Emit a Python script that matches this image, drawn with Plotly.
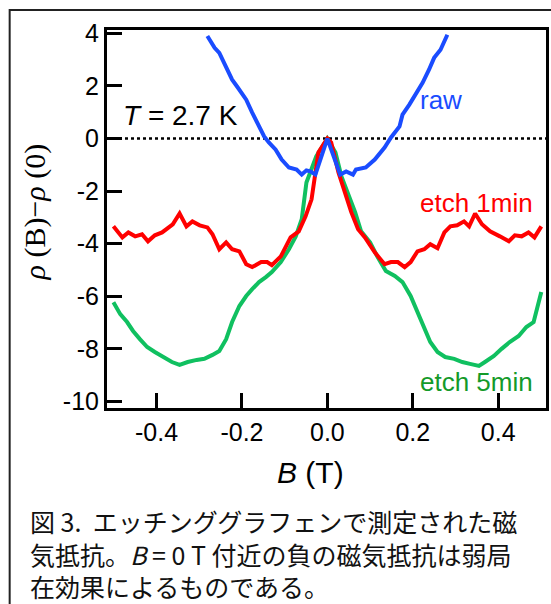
import plotly.graph_objects as go

# ---- data ----
raw_B = [-0.281, -0.264, -0.253, -0.237, -0.223, -0.211, -0.190, -0.176, -0.160, -0.148,
         -0.137, -0.121, -0.107, -0.090, -0.072, -0.060, -0.049, -0.040, -0.028, 0.0,
         0.030, 0.044, 0.060, 0.067, 0.090, 0.111, 0.134, 0.149, 0.169, 0.176,
         0.192, 0.204, 0.223, 0.238, 0.250, 0.265, 0.276, 0.281]
raw_rho = [3.90, 3.45, 3.26, 2.73, 2.24, 1.97, 1.48, 0.99, 0.46, 0.08,
           -0.15, -0.42, -0.80, -1.10, -1.18, -1.37, -1.21, -1.25, -1.37, 0.0,
           -1.37, -1.25, -1.37, -1.18, -1.10, -0.80, -0.34, 0.04, 0.46, 0.91,
           1.29, 1.59, 2.12, 2.62, 3.07, 3.38, 3.76, 3.95]

e1_B = [-0.501, -0.480, -0.466, -0.450, -0.434, -0.420, -0.404, -0.387, -0.362, -0.346,
        -0.330, -0.316, -0.299, -0.281, -0.269, -0.253, -0.237, -0.223, -0.206, -0.190,
        -0.176, -0.155, -0.141, -0.130, -0.109, -0.086, -0.067, -0.051, -0.037, -0.021, 0.0,
        0.009, 0.026, 0.044, 0.056, 0.072, 0.088, 0.111, 0.134, 0.149, 0.165,
        0.181, 0.195, 0.211, 0.227, 0.241, 0.258, 0.274, 0.288, 0.304, 0.320,
        0.332, 0.346, 0.362, 0.381, 0.404, 0.425, 0.439, 0.455, 0.471, 0.485, 0.501]
e1_rho = [-3.34, -3.76, -3.57, -3.72, -3.64, -3.91, -3.68, -3.57, -3.26, -2.85,
          -3.34, -3.15, -3.30, -3.38, -3.64, -4.21, -3.95, -4.21, -4.29, -4.78,
          -4.89, -4.70, -4.70, -4.82, -4.48, -3.76, -3.53, -2.96, -2.31, -0.53, 0.0,
          -0.15, -1.29, -2.20, -2.80, -3.45, -3.76, -4.33, -4.78, -4.70, -4.70,
          -4.89, -4.70, -4.29, -4.21, -4.02, -4.17, -3.57, -3.34, -3.30, -3.15,
          -3.34, -2.85, -3.26, -3.53, -3.72, -3.91, -3.68, -3.72, -3.57, -3.76, -3.34]

e5_B = [-0.501, -0.485, -0.469, -0.455, -0.439, -0.422, -0.404, -0.385, -0.364, -0.346,
        -0.327, -0.306, -0.288, -0.269, -0.253, -0.237, -0.223, -0.206, -0.190, -0.176,
        -0.160, -0.144, -0.130, -0.109, -0.090, -0.074, -0.060, -0.049, -0.026, 0.0,
        0.019, 0.033, 0.053, 0.065, 0.079, 0.100, 0.118, 0.137, 0.158, 0.176,
        0.195, 0.211, 0.227, 0.241, 0.258, 0.276, 0.297, 0.316, 0.334, 0.355,
        0.369, 0.390, 0.408, 0.427, 0.448, 0.466, 0.483, 0.501]
e5_rho = [-6.23, -6.68, -6.98, -7.32, -7.63, -7.93, -8.12, -8.31, -8.50, -8.61,
          -8.50, -8.42, -8.38, -8.23, -8.08, -7.63, -6.98, -6.37, -5.99, -5.73,
          -5.46, -5.27, -5.08, -4.70, -4.21, -3.72, -3.07, -1.67, -0.68, 0.0,
          -0.53, -1.44, -2.31, -2.80, -3.53, -3.95, -4.52, -5.04, -5.23, -5.46,
          -5.99, -6.60, -7.25, -7.74, -8.12, -8.31, -8.38, -8.50, -8.57, -8.65,
          -8.50, -8.27, -8.00, -7.74, -7.51, -7.17, -6.98, -5.84]

x_ticks = [-0.4, -0.2, 0.0, 0.2, 0.4]
x_tick_text = ["-0.4", "-0.2", "0.0", "0.2", "0.4"]
y_ticks = [4, 2, 0, -2, -4, -6, -8, -10]
y_tick_text = ["4", "2", "0", "-2", "-4", "-6", "-8", "-10"]

caption_lines = [
    "図 3.  エッチンググラフェンで測定された磁",
    "気抵抗。<i>B</i> = 0 T 付近の負の磁気抵抗は弱局",
    "在効果によるものである。",
]

# ---- figure ----
W, H = 551, 604
L, R, T, B = 107, 2, 30, 196
pw, ph = W - L - R, H - T - B

def px_x(p):
    return (p - L) / pw

def px_y(p):
    return 1 - (p - T) / ph

fig = go.Figure()
fig.add_trace(go.Scatter(x=e5_B, y=e5_rho, mode="lines",
                         line=dict(color="#10c060", width=4), showlegend=False))
fig.add_trace(go.Scatter(x=e1_B, y=e1_rho, mode="lines",
                         line=dict(color="#ff0000", width=4), showlegend=False))
fig.add_trace(go.Scatter(x=raw_B, y=raw_rho, mode="lines",
                         line=dict(color="#1a4cff", width=4), showlegend=False))

axis_font = dict(family="Liberation Sans, Arial", size=25, color="#000")
fig.update_xaxes(range=[-0.516, 0.512], tickvals=x_ticks, ticktext=x_tick_text,
                 ticks="inside", ticklen=15, tickwidth=3, tickcolor="#000",
                 showline=True, linewidth=3, linecolor="#000", mirror=True,
                 showgrid=False, zeroline=False, tickfont=axis_font)
fig.update_yaxes(range=[-10.25, 4.13], tickvals=y_ticks, ticktext=y_tick_text,
                 ticks="inside", ticklen=15, tickwidth=3, tickcolor="#000",
                 showline=True, linewidth=3, linecolor="#000", mirror=True,
                 showgrid=False, zeroline=False, tickfont=axis_font)

shapes = [
    dict(type="line", xref="paper", yref="y", x0=0, x1=1, y0=0, y1=0,
         line=dict(color="#000", width=2.5, dash="dot"), layer="below"),
    dict(type="rect", xref="paper", yref="paper",
         x0=px_x(9), x1=px_x(570), y0=px_y(10), y1=px_y(640),
         line=dict(color="#222", width=2), fillcolor="rgba(0,0,0,0)"),
]

ann = []
ann.append(dict(text="<i>T</i> = 2.7 K", xref="paper", yref="paper",
                x=px_x(121), y=px_y(116), xanchor="left", yanchor="middle",
                showarrow=False, font=dict(family="Liberation Sans, Arial", size=28, color="#000")))
ann.append(dict(text="raw", xref="paper", yref="paper",
                x=px_x(420), y=px_y(100), xanchor="left", yanchor="middle",
                showarrow=False, font=dict(family="Liberation Sans, Arial", size=26, color="#1a4cff")))
ann.append(dict(text="etch 1min", xref="paper", yref="paper",
                x=px_x(420), y=px_y(203), xanchor="left", yanchor="middle",
                showarrow=False, font=dict(family="Liberation Sans, Arial", size=26, color="#ff0000")))
ann.append(dict(text="etch 5min", xref="paper", yref="paper",
                x=px_x(420), y=px_y(382), xanchor="left", yanchor="middle",
                showarrow=False, font=dict(family="Liberation Sans, Arial", size=26, color="#149a2a")))
ann.append(dict(text="<i>B</i> (T)", xref="paper", yref="paper",
                x=px_x(312), y=px_y(472), xanchor="center", yanchor="middle",
                showarrow=False, font=dict(family="Liberation Sans, Arial", size=30, color="#000")))
ann.append(dict(text="<i>ρ</i> (B)−<i>ρ</i> (0)", xref="paper", yref="paper",
                x=px_x(35), y=px_y(212), xanchor="center", yanchor="middle", textangle=-90,
                showarrow=False, font=dict(family="Liberation Serif, Times New Roman", size=30, color="#000")))
ann.append(dict(text="<br>".join(caption_lines), xref="paper", yref="paper",
                x=px_x(27), y=px_y(553), xanchor="left", yanchor="middle", align="left",
                showarrow=False, font=dict(family="Noto Sans CJK JP", size=25, color="#111")))

fig.update_layout(width=W, height=H, margin=dict(l=L, r=R, t=T, b=B),
                  paper_bgcolor="white", plot_bgcolor="white",
                  shapes=shapes, annotations=ann)

fig.write_html("out.html")
